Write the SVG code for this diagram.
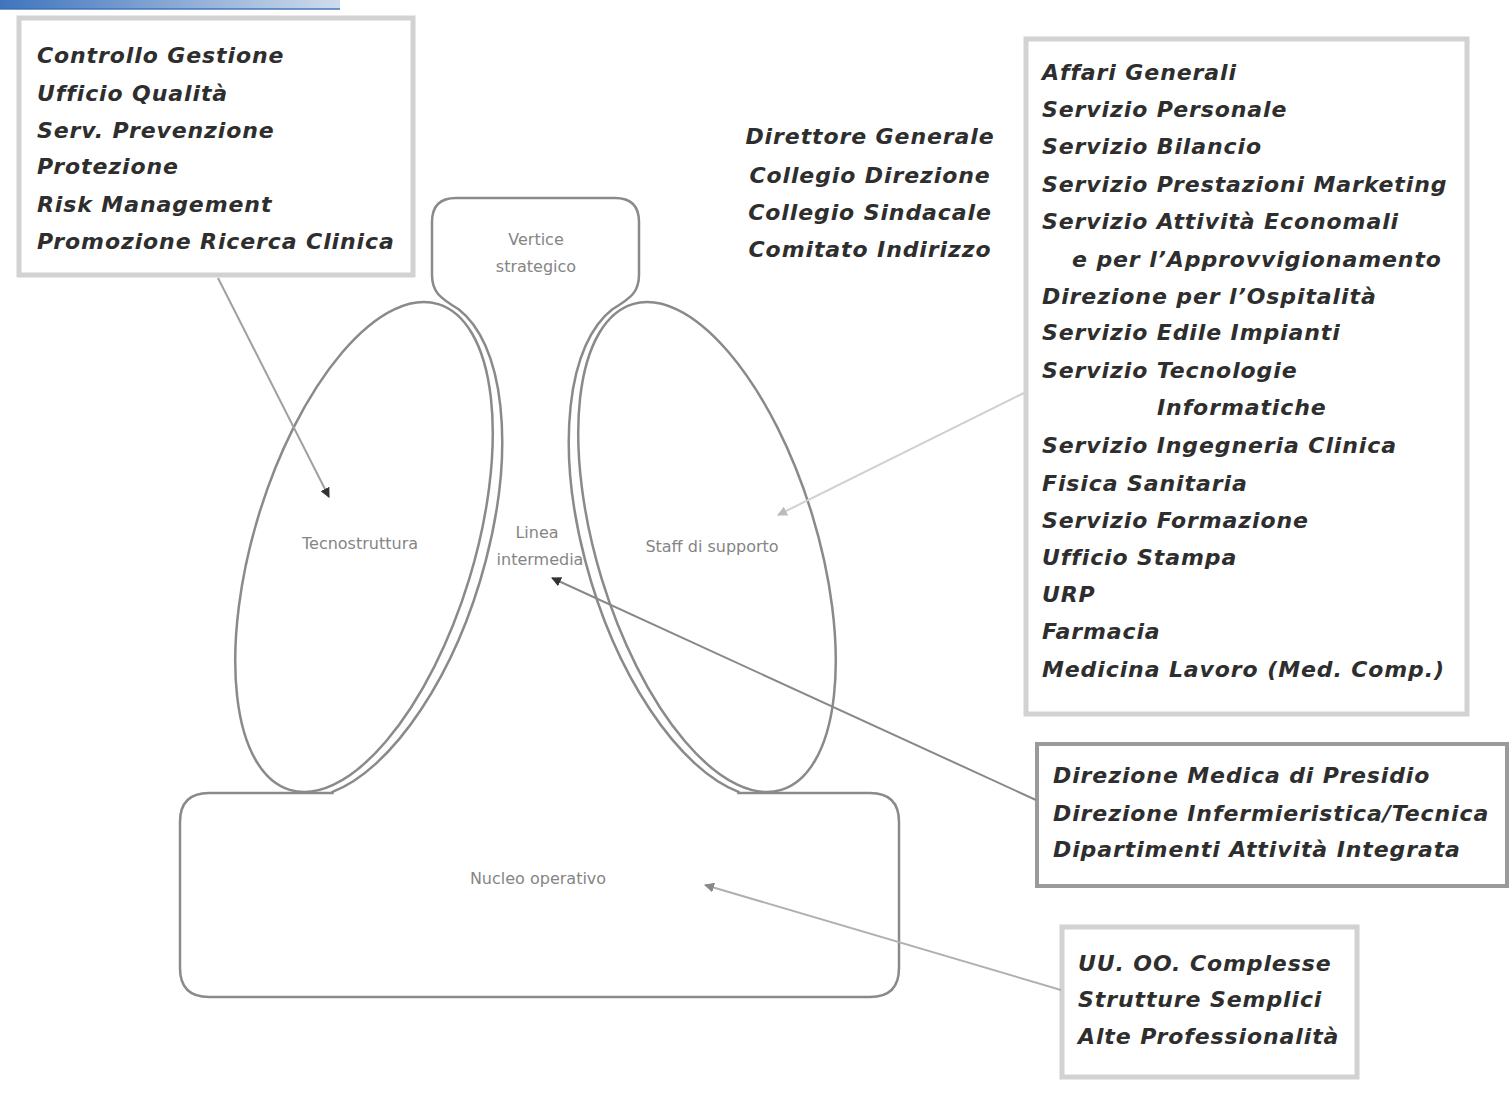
<svg xmlns="http://www.w3.org/2000/svg" width="1510" height="1102" viewBox="0 0 1510 1102">
  <defs>
    <linearGradient id="bar" x1="0" y1="0" x2="1" y2="0">
      <stop offset="0" stop-color="#3f74bd"/>
      <stop offset="1" stop-color="#cfdcec"/>
    </linearGradient>
    <marker id="ah-dark" viewBox="0 0 10 10" refX="9" refY="5" markerWidth="5" markerHeight="5" orient="auto">
      <path d="M0,0 L10,5 L0,10 Z" fill="#333"/>
    </marker>
    <marker id="ah-mid" viewBox="0 0 10 10" refX="9" refY="5" markerWidth="5" markerHeight="5" orient="auto">
      <path d="M0,0 L10,5 L0,10 Z" fill="#888"/>
    </marker>
    <marker id="ah-light" viewBox="0 0 10 10" refX="9" refY="5" markerWidth="5" markerHeight="5" orient="auto">
      <path d="M0,0 L10,5 L0,10 Z" fill="#bbb"/>
    </marker>
    <style>
      .list { font-family: "DejaVu Sans", Verdana, sans-serif; font-weight: bold; font-style: italic; font-size: 22px; letter-spacing: 0.9px; fill: #2e2e2e; }
      .tiny { font-family: "DejaVu Sans", sans-serif; font-size: 16px; fill: #858585; text-anchor: middle; }
      .frame { fill: #fff; stroke: #d2d2d2; stroke-width: 5; }
      .frame-dark { fill: #fff; stroke: #9a9a9a; stroke-width: 4; }
      .shape { fill: none; stroke: #8a8a8a; stroke-width: 2.5; }
      .conn { fill: none; stroke-width: 2; }
    </style>
  </defs>

  <rect width="1510" height="1102" fill="#fff"/>

  <!-- header bar -->
  <rect x="0" y="0" width="340" height="9" fill="url(#bar)"/>
  <rect x="0" y="8" width="340" height="2" fill="#3a6fb5" opacity="0.7"/>

  <!-- organisational shapes -->
  <g id="tecnostruttura">
    <ellipse class="shape" cx="364" cy="547" rx="110" ry="254" transform="rotate(17 364 547)"/>
    <text class="tiny" x="360" y="549">Tecnostruttura</text>
  </g>

  <g id="staff-supporto">
    <ellipse class="shape" cx="707" cy="547" rx="110" ry="254" transform="rotate(-17 707 547)"/>
    <text class="tiny" x="712" y="552">Staff di supporto</text>
  </g>

  <!-- strategic apex, middle line and operating core share one outline -->
  <g id="vertice-linea-nucleo">
    <path class="shape" d="M332.5,791.8 A121,259 17 0 0 458.6,309.3 C440,298 432,292 432,275 L432,222 Q432,198 456,198 L615,198 Q639,198 639,222 L639,275 C639,292 631,298 612.4,309.3 A121,259 -17 0 0 738.5,791.8 L738.5,793 L870,793 Q899,793 899,822 L899,968 Q899,997 870,997 L209,997 Q180,997 180,968 L180,822 Q180,793 209,793 L332.5,793 Z"/>
  </g>
  <g id="vertice-strategico">
    <text class="tiny" x="536" y="245">Vertice</text>
    <text class="tiny" x="536" y="272">strategico</text>
  </g>
  <g id="linea-intermedia">
    <text class="tiny" x="537" y="538">Linea</text>
    <text class="tiny" x="540" y="565">intermedia</text>
  </g>
  <g id="nucleo-operativo">
    <text class="tiny" x="538" y="884">Nucleo operativo</text>
  </g>

  <!-- label boxes -->
  <g id="box-staff-direzione">
    <rect class="frame" x="19" y="18" width="394" height="257"/>
    <text class="list" x="37" y="63">Controllo Gestione</text>
    <text class="list" x="37" y="101">Ufficio Qualità</text>
    <text class="list" x="37" y="138">Serv. Prevenzione</text>
    <text class="list" x="37" y="174">Protezione</text>
    <text class="list" x="37" y="212">Risk Management</text>
    <text class="list" x="37" y="249">Promozione Ricerca Clinica</text>
  </g>

  <g id="vertice-list">
    <text class="list" x="870" y="144" text-anchor="middle">Direttore Generale</text>
    <text class="list" x="870" y="183" text-anchor="middle">Collegio Direzione</text>
    <text class="list" x="870" y="220" text-anchor="middle">Collegio Sindacale</text>
    <text class="list" x="870" y="257" text-anchor="middle">Comitato Indirizzo</text>
  </g>

  <g id="box-servizi">
    <rect class="frame" x="1026" y="39" width="441" height="675"/>
    <text class="list" x="1042" y="80">Affari Generali</text>
    <text class="list" x="1042" y="117">Servizio Personale</text>
    <text class="list" x="1042" y="154">Servizio Bilancio</text>
    <text class="list" x="1042" y="192">Servizio Prestazioni Marketing</text>
    <text class="list" x="1042" y="229">Servizio Attività Economali</text>
    <text class="list" x="1072" y="267">e per l’Approvvigionamento</text>
    <text class="list" x="1042" y="304">Direzione per l’Ospitalità</text>
    <text class="list" x="1042" y="340">Servizio Edile Impianti</text>
    <text class="list" x="1042" y="378">Servizio Tecnologie</text>
    <text class="list" x="1157" y="415">Informatiche</text>
    <text class="list" x="1042" y="453">Servizio Ingegneria Clinica</text>
    <text class="list" x="1042" y="491">Fisica Sanitaria</text>
    <text class="list" x="1042" y="528">Servizio Formazione</text>
    <text class="list" x="1042" y="565">Ufficio Stampa</text>
    <text class="list" x="1042" y="602">URP</text>
    <text class="list" x="1042" y="639">Farmacia</text>
    <text class="list" x="1042" y="677">Medicina Lavoro (Med. Comp.)</text>
  </g>

  <g id="box-direzioni">
    <rect class="frame-dark" x="1037" y="744" width="470" height="142"/>
    <text class="list" x="1053" y="783">Direzione Medica di Presidio</text>
    <text class="list" x="1053" y="821">Direzione Infermieristica/Tecnica</text>
    <text class="list" x="1053" y="857">Dipartimenti Attività Integrata</text>
  </g>

  <g id="box-unita">
    <rect class="frame" x="1062" y="927" width="295" height="150"/>
    <text class="list" x="1078" y="971">UU. OO. Complesse</text>
    <text class="list" x="1078" y="1007">Strutture Semplici</text>
    <text class="list" x="1078" y="1044">Alte Professionalità</text>
  </g>

  <!-- connectors -->
  <g id="connectors">
    <line class="conn" x1="218" y1="278" x2="329" y2="497" stroke="#a0a0a0" marker-end="url(#ah-dark)"/>
    <line class="conn" x1="1024" y1="393" x2="778" y2="515" stroke="#d0d0d0" marker-end="url(#ah-light)"/>
    <line class="conn" x1="1036" y1="800" x2="552" y2="578" stroke="#888" marker-end="url(#ah-dark)"/>
    <line class="conn" x1="1061" y1="990" x2="705" y2="885" stroke="#b0b0b0" marker-end="url(#ah-mid)"/>
  </g>
</svg>
